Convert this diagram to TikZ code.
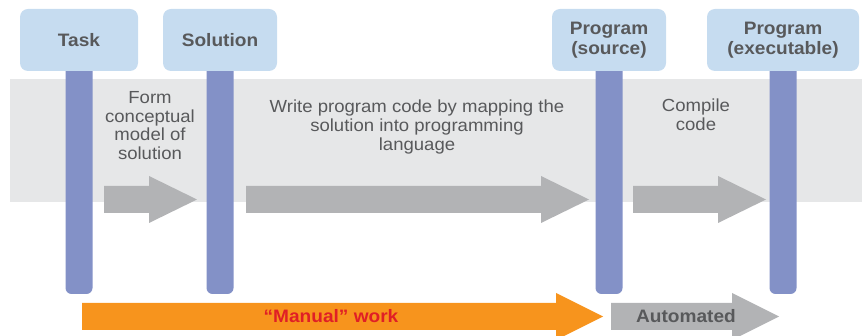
\documentclass[tikz,border=0pt]{standalone}
\usepackage{fontspec}
\setmainfont{Liberation Sans}[FakeStretch=1.06]
\definecolor{boxfill}{HTML}{C6DCF0}
\definecolor{barcol}{HTML}{8391C7}
\definecolor{bandcol}{HTML}{E6E7E8}
\definecolor{arrgray}{HTML}{B2B3B5}
\definecolor{orangecol}{HTML}{F7941D}
\definecolor{redtext}{HTML}{E01F26}
\definecolor{textgray}{HTML}{58595B}
\newcommand{\blockarrow}[5]{%
  % #1 shaft start x, #2 head start x, #3 tip x, #4 centre y, #5 colour
  \fill[#5] (#1,#4-13.5) -- (#2,#4-13.5) -- (#2,#4-23.5) -- (#3,#4)
    -- (#2,#4+23.5) -- (#2,#4+13.5) -- (#1,#4+13.5) -- cycle;}
\begin{document}
\begin{tikzpicture}[x=1pt,y=-1pt,
  stagebox/.style={fill=boxfill,rounded corners=8pt,minimum height=62pt,
    inner sep=0pt,align=center,text=textgray,
    font=\fontsize{18}{19.5}\selectfont\bfseries},
  bodytext/.style={align=center,inner sep=0pt,anchor=north,text=textgray,
    font=\fontsize{17.5}{18.8}\selectfont},
  bottomlabel/.style={font=\fontsize{18}{19}\selectfont\bfseries}]
\useasboundingbox (0,0) rectangle (862,336);
% band
\fill[bandcol] (10,79) rectangle (862,202);
% boxes
\node[stagebox,minimum width=118pt] (task) at (79,40) {Task};
\node[stagebox,minimum width=114pt] (sol) at (220,40) {Solution};
\node[stagebox,minimum width=114pt] (src) at (609,40) {Program\\(source)};
\node[stagebox,minimum width=152pt] (exe) at (783,40) {Program\\(executable)};
% bars
\foreach \n in {task,sol,src,exe}{
  \path (\n.south) coordinate (\n-top);
  \fill[barcol,rounded corners=6pt] ([xshift=-13.5pt]\n-top) -- ([xshift=-13.5pt]\n-top |- 0,294)
    -- ([xshift=13.5pt]\n-top |- 0,294) [sharp corners] -- ([xshift=13.5pt]\n-top) -- cycle;
}
% texts
\node[bodytext] (t1) at (150,91) {Form\\conceptual\\model of\\solution};
\node[bodytext] (t2) at (417,100) {Write program code by mapping the\\solution into programming\\language};
\node[bodytext] (t3) at (696,99) {Compile\\code};
% gray arrows
\blockarrow{104}{149}{197}{199.5}{arrgray}
\blockarrow{246}{541}{589}{199.5}{arrgray}
\blockarrow{633}{718}{766}{199.5}{arrgray}
% bottom arrows
\blockarrow{82}{556}{603}{316.5}{orangecol}
\blockarrow{611}{732}{779}{316.5}{arrgray}
\node[bottomlabel,text=redtext] (manual) at (331,316.5) {“Manual” work};
\node[bottomlabel,text=textgray] (auto) at (686,316.5) {Automated};
\end{tikzpicture}
\end{document}
